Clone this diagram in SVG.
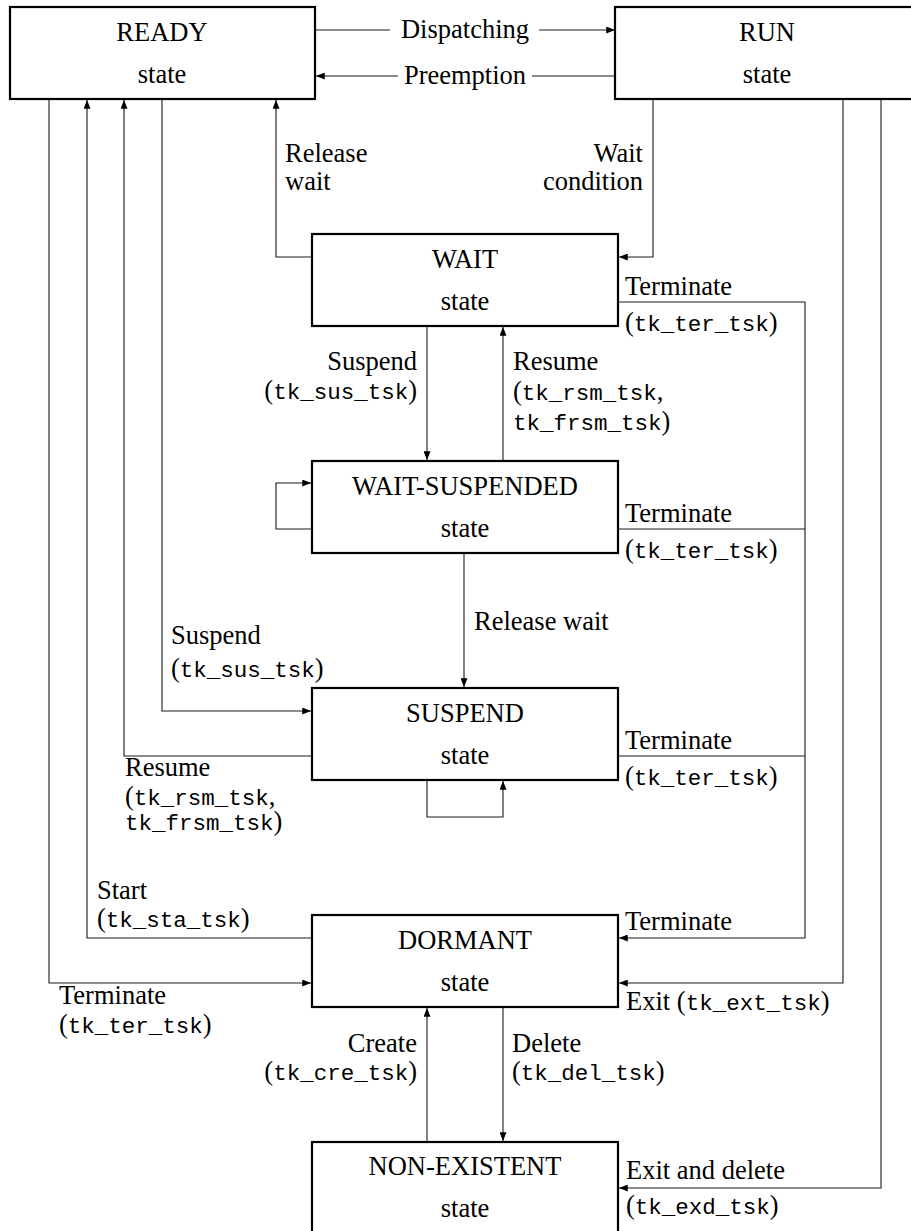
<svg xmlns="http://www.w3.org/2000/svg" width="911" height="1231" viewBox="0 0 911 1231">
  <style>
    .box { fill: #fff; stroke: #000; stroke-width: 2.2; }
    .lbl { font-family: "Liberation Serif", "Times New Roman", serif; font-size: 26.5px; fill: #000; }
    .mid { text-anchor: middle; }
    .end { text-anchor: end; }
    .tt { font-family: "Liberation Mono", "Courier New", monospace; font-size: 22.5px; }
    .wire { fill: none; stroke: #1a1a1a; stroke-width: 1.1; }
    .arr { marker-end: url(#head); }
  </style>
  <defs>
    <marker id="head" markerUnits="userSpaceOnUse" viewBox="0 0 10 8" refX="10" refY="4" markerWidth="9" markerHeight="7" orient="auto">
      <path d="M0,0 L10,4 L0,8 Z" fill="#000"/>
    </marker>
  </defs>

  <!-- transitions -->
  <g id="connectors" class="wire">
    <path class="arr" d="M315,30 H390 M539,30 H615"/>
    <path class="arr" d="M615,76 H532 M398,76 H316"/>
    <path class="arr" d="M312,257 H276 V100"/>
    <path class="arr" d="M653,100 V257 H619"/>
    <path class="arr" d="M618,302 H805 V938 H619"/>
    <path d="M618,529 H805"/>
    <path d="M618,756 H805"/>
    <path class="arr" d="M427,326 V460"/>
    <path class="arr" d="M503,461 V327"/>
    <path class="arr" d="M312,529 H276 V483 H311"/>
    <path class="arr" d="M464,553 V687"/>
    <path class="arr" d="M162,100 V711 H311"/>
    <path class="arr" d="M312,756 H124 V100"/>
    <path class="arr" d="M427,780 V817 H503 V781"/>
    <path class="arr" d="M312,938 H87 V100"/>
    <path class="arr" d="M49,100 V983 H311"/>
    <path class="arr" d="M843,100 V983 H619"/>
    <path class="arr" d="M881,100 V1188 H619"/>
    <path class="arr" d="M427,1142 V1008"/>
    <path class="arr" d="M503,1007 V1141"/>
  </g>

  <!-- states -->
  <g id="ready">
    <rect class="box" x="10" y="7" width="305" height="92"/>
    <text class="lbl mid" x="162" y="41">READY</text>
    <text class="lbl mid" x="162" y="83">state</text>
  </g>
  <g id="run">
    <rect class="box" x="615" y="7" width="305" height="92"/>
    <text class="lbl mid" x="767" y="41">RUN</text>
    <text class="lbl mid" x="767" y="83">state</text>
  </g>
  <g id="wait">
    <rect class="box" x="312" y="234" width="306" height="92"/>
    <text class="lbl mid" x="465" y="268">WAIT</text>
    <text class="lbl mid" x="465" y="310">state</text>
  </g>
  <g id="wait-suspended">
    <rect class="box" x="312" y="461" width="306" height="92"/>
    <text class="lbl mid" x="465" y="495">WAIT-SUSPENDED</text>
    <text class="lbl mid" x="465" y="537">state</text>
  </g>
  <g id="suspend">
    <rect class="box" x="312" y="688" width="306" height="92"/>
    <text class="lbl mid" x="465" y="722">SUSPEND</text>
    <text class="lbl mid" x="465" y="764">state</text>
  </g>
  <g id="dormant">
    <rect class="box" x="312" y="915" width="306" height="92"/>
    <text class="lbl mid" x="465" y="949">DORMANT</text>
    <text class="lbl mid" x="465" y="991">state</text>
  </g>
  <g id="non-existent">
    <rect class="box" x="312" y="1142" width="306" height="92"/>
    <text class="lbl mid" x="465" y="1175">NON-EXISTENT</text>
    <text class="lbl mid" x="465" y="1217">state</text>
  </g>

  <!-- transition labels -->
  <g id="labels">
    <text class="lbl mid" x="465" y="38">Dispatching</text>
    <text class="lbl mid" x="465" y="84">Preemption</text>

    <text class="lbl" x="285" y="162">Release</text>
    <text class="lbl" x="285" y="190">wait</text>
    <text class="lbl end" x="643" y="162">Wait</text>
    <text class="lbl end" x="643" y="190">condition</text>

    <text class="lbl" x="625" y="295">Terminate</text>
    <text class="lbl" x="625" y="331">(<tspan class="tt">tk_ter_tsk</tspan>)</text>

    <text class="lbl end" x="417" y="370">Suspend</text>
    <text class="lbl end" x="417" y="399">(<tspan class="tt">tk_sus_tsk</tspan>)</text>
    <text class="lbl" x="513" y="370">Resume</text>
    <text class="lbl" x="513" y="400">(<tspan class="tt">tk_rsm_tsk</tspan>,</text>
    <text class="lbl" x="513" y="430"><tspan class="tt">tk_frsm_tsk</tspan>)</text>

    <text class="lbl" x="625" y="522">Terminate</text>
    <text class="lbl" x="625" y="558">(<tspan class="tt">tk_ter_tsk</tspan>)</text>

    <text class="lbl" x="474" y="630">Release wait</text>

    <text class="lbl" x="171" y="644">Suspend</text>
    <text class="lbl" x="171" y="677">(<tspan class="tt">tk_sus_tsk</tspan>)</text>

    <text class="lbl" x="625" y="749">Terminate</text>
    <text class="lbl" x="625" y="785">(<tspan class="tt">tk_ter_tsk</tspan>)</text>

    <text class="lbl" x="125" y="776">Resume</text>
    <text class="lbl" x="125" y="805">(<tspan class="tt">tk_rsm_tsk</tspan>,</text>
    <text class="lbl" x="125" y="830"><tspan class="tt">tk_frsm_tsk</tspan>)</text>

    <text class="lbl" x="97" y="899">Start</text>
    <text class="lbl" x="97" y="927">(<tspan class="tt">tk_sta_tsk</tspan>)</text>

    <text class="lbl" x="625" y="930">Terminate</text>

    <text class="lbl" x="59" y="1004">Terminate</text>
    <text class="lbl" x="59" y="1033">(<tspan class="tt">tk_ter_tsk</tspan>)</text>

    <text class="lbl" x="626" y="1010">Exit (<tspan class="tt">tk_ext_tsk</tspan>)</text>

    <text class="lbl end" x="417" y="1052">Create</text>
    <text class="lbl end" x="417" y="1080">(<tspan class="tt">tk_cre_tsk</tspan>)</text>
    <text class="lbl" x="512" y="1052">Delete</text>
    <text class="lbl" x="512" y="1080">(<tspan class="tt">tk_del_tsk</tspan>)</text>

    <text class="lbl" x="626" y="1179">Exit and delete</text>
    <text class="lbl" x="626" y="1214">(<tspan class="tt">tk_exd_tsk</tspan>)</text>
  </g>
</svg>
